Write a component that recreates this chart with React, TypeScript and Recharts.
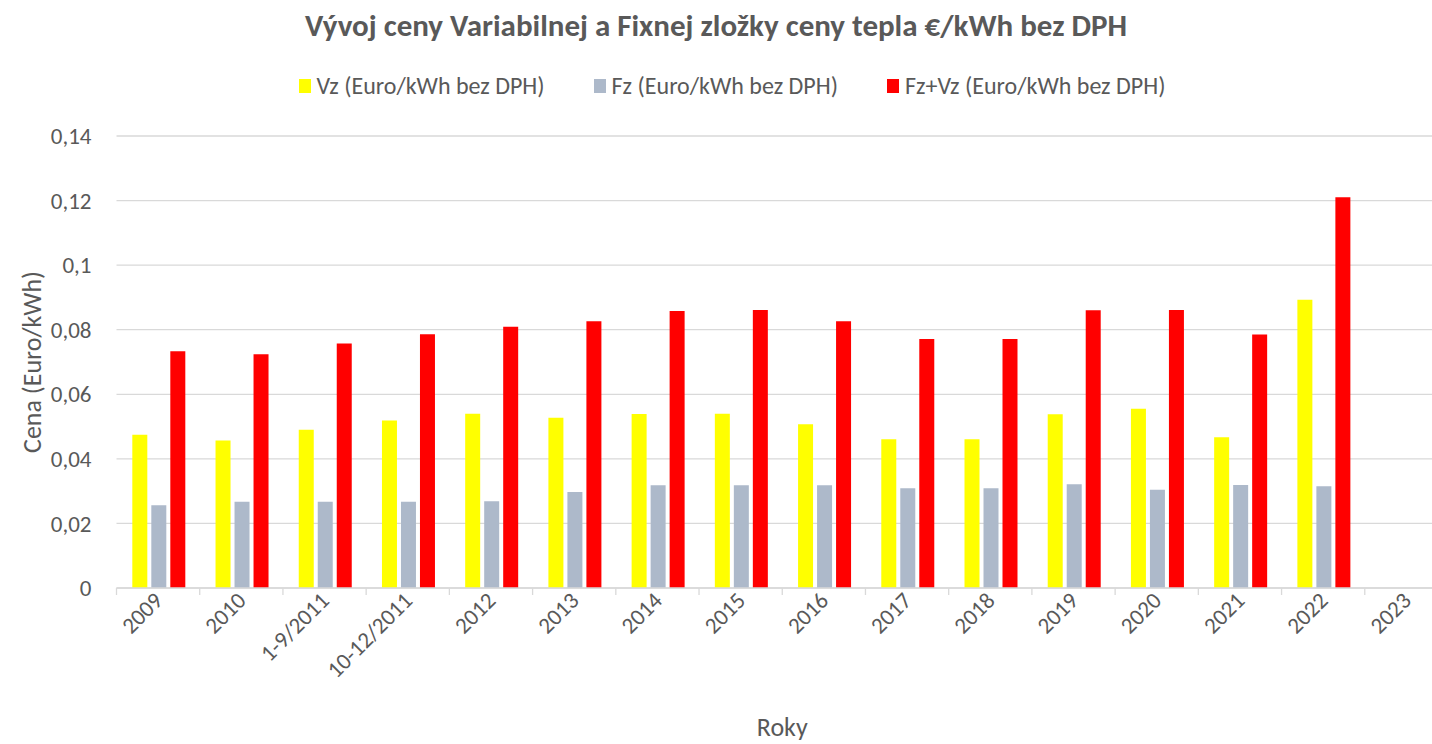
import React from "react";
import {
  BarChart, Bar, XAxis, YAxis, CartesianGrid, Legend, Label
} from "recharts";

const categories = [
  "2009", "2010", "1-9/2011", "10-12/2011", "2012", "2013", "2014", "2015",
  "2016", "2017", "2018", "2019", "2020", "2021", "2022", "2023",
];
const vz = [
  0.0475, 0.0457, 0.049, 0.0519, 0.054, 0.0527, 0.0539, 0.054,
  0.0507, 0.0461, 0.0461, 0.0538, 0.0555, 0.0467, 0.0893, null,
];
const fz = [
  0.0256, 0.0267, 0.0267, 0.0267, 0.0269, 0.0297, 0.0318, 0.0318,
  0.0318, 0.0309, 0.0309, 0.0321, 0.0304, 0.0319, 0.0315, null,
];
const fzvz = [
  0.0733, 0.0724, 0.0757, 0.0786, 0.0809, 0.0826, 0.0858, 0.0861,
  0.0826, 0.0771, 0.0771, 0.086, 0.0861, 0.0785, 0.121, null,
];
const yTicks = [0, 0.02, 0.04, 0.06, 0.08, 0.1, 0.12, 0.14];

const seriesNames = [
  "Vz (Euro/kWh bez DPH)",
  "Fz (Euro/kWh bez DPH)",
  "Fz+Vz (Euro/kWh bez DPH)",
];
const colors = ["#ffff00", "#adb9ca", "#ff0000"];

const data = categories.map((c, i) => ({ name: c, vz: vz[i], fz: fz[i], fzvz: fzvz[i] }));

const FONT = "Carlito, Calibri, 'Open Sans', sans-serif";
const TEXT = "#595959";
const GRID = "#d9d9d9";

const CHART_W = 1460;
const MARGIN = { top: 72, right: 12, left: 0, bottom: 4 };
const Y_W = 116.5;
const BAND = (CHART_W - MARGIN.left - MARGIN.right - Y_W) / categories.length;

const fmt = (v: number) => (v === 0 ? "0" : String(v).replace(".", ","));

const XTick = ({ x, y, payload, index }: any) => {
  const tx = x + 6;
  const ty = y + 14;
  return (
    <g>
      <line x1={x - BAND / 2} x2={x - BAND / 2} y1={y} y2={y + 7} stroke={GRID} strokeWidth={1.3} />
      {index === categories.length - 1 && (
        <line x1={x + BAND / 2} x2={x + BAND / 2} y1={y} y2={y + 7} stroke={GRID} strokeWidth={1.3} />
      )}
      <text
        x={tx}
        y={ty}
        transform={`rotate(-45, ${tx}, ${ty})`}
        textAnchor="end"
        fill={TEXT}
        fontSize={23}
        fontFamily={FONT}
      >
        {payload.value}
      </text>
    </g>
  );
};

const LegendContent = () => (
  <div
    style={{
      display: "flex",
      justifyContent: "center",
      width: 1432,
      paddingLeft: 32,
      marginTop: -1,
      boxSizing: "border-box",
      fontFamily: FONT,
      fontSize: 24,
      color: TEXT,
    }}
  >
    {seriesNames.map((n, i) => (
      <div key={n} style={{ display: "flex", alignItems: "center", marginRight: i < 2 ? 49 : 0 }}>
        <span style={{ width: 12, height: 14, background: colors[i], marginRight: 6, display: "inline-block" }} />
        <span>{n}</span>
      </div>
    ))}
  </div>
);

export default function App() {
  return (
    <div style={{ position: "absolute", left: 0, top: 0, width: 1432, height: 744, overflow: "hidden", background: "#fff" }}>
      <div
        style={{
          position: "absolute",
          top: 6,
          left: 0,
          width: 1432,
          textAlign: "center",
          fontFamily: FONT,
          fontWeight: "bold",
          fontSize: 31,
          color: TEXT,
        }}
      >
        Vývoj ceny Variabilnej a Fixnej zložky ceny tepla €/kWh bez DPH
      </div>
      <BarChart
        width={CHART_W}
        height={744}
        data={data}
        margin={MARGIN}
        barCategoryGap="19%"
        barGap={4}
      >
        <CartesianGrid vertical={false} stroke={GRID} strokeWidth={1.3} />
        <XAxis
          dataKey="name"
          interval={0}
          tickLine={false}
          tickSize={0}
          tickMargin={0}
          axisLine={{ stroke: GRID, strokeWidth: 1.3 }}
          height={152}
          tick={<XTick />}
        >
          <Label value="Roky" position="insideBottom" offset={4} fill={TEXT} fontSize={26} fontFamily={FONT} />
        </XAxis>
        <YAxis
          width={Y_W}
          domain={[0, 0.14]}
          ticks={yTicks}
          tickFormatter={fmt}
          axisLine={false}
          tickLine={false}
          tickSize={0}
          tickMargin={25}
          tick={{ fill: TEXT, fontSize: 23, fontFamily: FONT }}
        >
          <Label
            value="Cena (Euro/kWh)"
            angle={-90}
            position="insideLeft"
            offset={32}
            fill={TEXT}
            fontSize={26}
            fontFamily={FONT}
            style={{ textAnchor: "middle" }}
          />
        </YAxis>
        <Legend verticalAlign="top" height={64} content={<LegendContent />} />
        <Bar dataKey="vz" name={seriesNames[0]} fill={colors[0]} isAnimationActive={false} />
        <Bar dataKey="fz" name={seriesNames[1]} fill={colors[1]} isAnimationActive={false} />
        <Bar dataKey="fzvz" name={seriesNames[2]} fill={colors[2]} isAnimationActive={false} />
      </BarChart>
    </div>
  );
}
